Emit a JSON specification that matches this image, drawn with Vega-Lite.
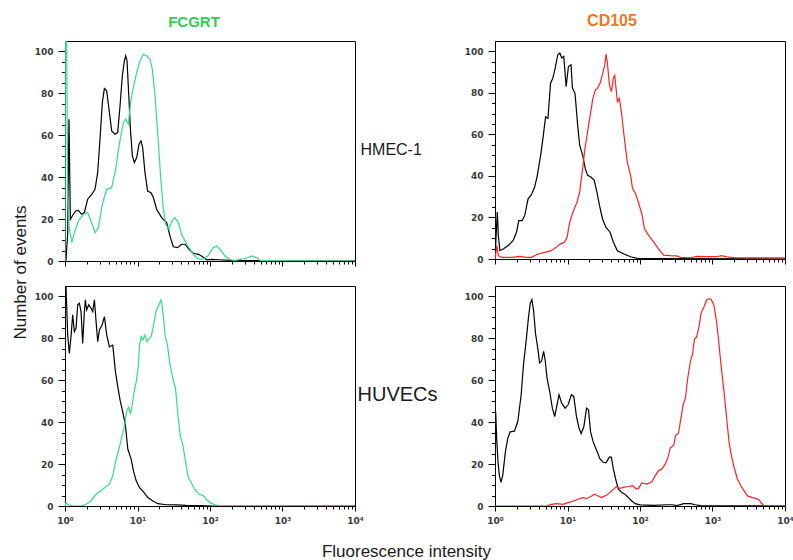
{
  "$schema": "https://vega.github.io/schema/vega-lite/v6.json",
  "background": "white",
  "padding": {"left": 10, "top": 12, "right": 5, "bottom": 5},
  "datasets": {
    "hmec_fcgrt": [
      {"fluor":1.03,"count":0,"stain":"control"},{"fluor":1.09,"count":13.5,"stain":"control"},{"fluor":1.135,"count":67.7,"stain":"control"},{"fluor":1.185,"count":19.9,"stain":"control"},{"fluor":1.262,"count":21.5,"stain":"control"},{"fluor":1.403,"count":23.9,"stain":"control"},{"fluor":1.527,"count":24.2,"stain":"control"},{"fluor":1.698,"count":22.3,"stain":"control"},{"fluor":1.848,"count":23.1,"stain":"control"},{"fluor":2.055,"count":29.5,"stain":"control"},{"fluor":2.333,"count":31.8,"stain":"control"},{"fluor":2.593,"count":34.2,"stain":"control"},{"fluor":2.823,"count":42.2,"stain":"control"},{"fluor":3.039,"count":58.1,"stain":"control"},{"fluor":3.273,"count":75.6,"stain":"control"},{"fluor":3.49,"count":82.3,"stain":"control"},{"fluor":3.757,"count":81.2,"stain":"control"},{"fluor":4.045,"count":72.5,"stain":"control"},{"fluor":4.403,"count":62.1,"stain":"control"},{"fluor":4.897,"count":60.5,"stain":"control"},{"fluor":5.325,"count":61.3,"stain":"control"},{"fluor":5.74,"count":74.0,"stain":"control"},{"fluor":6.18,"count":88.4,"stain":"control"},{"fluor":6.58,"count":95.5,"stain":"control"},{"fluor":6.87,"count":97.9,"stain":"control"},{"fluor":7.17,"count":95.5,"stain":"control"},{"fluor":7.63,"count":77.2,"stain":"control"},{"fluor":7.96,"count":63.7,"stain":"control"},{"fluor":8.49,"count":50.2,"stain":"control"},{"fluor":9.04,"count":47.0,"stain":"control"},{"fluor":9.75,"count":49.4,"stain":"control"},{"fluor":10.49,"count":55.7,"stain":"control"},{"fluor":11.17,"count":57.3,"stain":"control"},{"fluor":11.78,"count":54.1,"stain":"control"},{"fluor":12.68,"count":42.2,"stain":"control"},{"fluor":13.8,"count":33.4,"stain":"control"},{"fluor":15.35,"count":32.6,"stain":"control"},{"fluor":16.53,"count":30.3,"stain":"control"},{"fluor":18.37,"count":24.7,"stain":"control"},{"fluor":21.53,"count":20.7,"stain":"control"},{"fluor":25.24,"count":18.3,"stain":"control"},{"fluor":28.06,"count":11.9,"stain":"control"},{"fluor":31.2,"count":6.8,"stain":"control"},{"fluor":35.8,"count":6.4,"stain":"control"},{"fluor":40.6,"count":8.0,"stain":"control"},{"fluor":45.2,"count":8.0,"stain":"control"},{"fluor":51.3,"count":5.6,"stain":"control"},{"fluor":58.9,"count":3.7,"stain":"control"},{"fluor":69,"count":3.2,"stain":"control"},{"fluor":78.4,"count":2.1,"stain":"control"},{"fluor":90,"count":0.5,"stain":"control"},{"fluor":105.5,"count":0.8,"stain":"control"},{"fluor":130.3,"count":0.6,"stain":"control"},{"fluor":199,"count":0.3,"stain":"control"},{"fluor":376,"count":0.2,"stain":"control"},{"fluor":10000,"count":0,"stain":"control"},
      {"fluor":1.0,"count":0,"stain":"FCGRT"},{"fluor":1.01,"count":105,"stain":"FCGRT"},{"fluor":1.054,"count":105,"stain":"FCGRT"},{"fluor":1.088,"count":35.8,"stain":"FCGRT"},{"fluor":1.135,"count":16.7,"stain":"FCGRT"},{"fluor":1.236,"count":8.8,"stain":"FCGRT"},{"fluor":1.345,"count":13.5,"stain":"FCGRT"},{"fluor":1.527,"count":19.1,"stain":"FCGRT"},{"fluor":1.79,"count":22.3,"stain":"FCGRT"},{"fluor":2.055,"count":23.1,"stain":"FCGRT"},{"fluor":2.284,"count":19.1,"stain":"FCGRT"},{"fluor":2.593,"count":13.5,"stain":"FCGRT"},{"fluor":2.884,"count":15.9,"stain":"FCGRT"},{"fluor":3.273,"count":27.1,"stain":"FCGRT"},{"fluor":3.757,"count":34.2,"stain":"FCGRT"},{"fluor":4.403,"count":35.0,"stain":"FCGRT"},{"fluor":5.0,"count":43.8,"stain":"FCGRT"},{"fluor":5.56,"count":54.9,"stain":"FCGRT"},{"fluor":6.38,"count":66.1,"stain":"FCGRT"},{"fluor":6.87,"count":67.7,"stain":"FCGRT"},{"fluor":7.47,"count":65.3,"stain":"FCGRT"},{"fluor":8.13,"count":77.2,"stain":"FCGRT"},{"fluor":8.85,"count":83.6,"stain":"FCGRT"},{"fluor":9.75,"count":90,"stain":"FCGRT"},{"fluor":10.82,"count":95.5,"stain":"FCGRT"},{"fluor":12.03,"count":98.7,"stain":"FCGRT"},{"fluor":13.37,"count":97.9,"stain":"FCGRT"},{"fluor":14.87,"count":96.3,"stain":"FCGRT"},{"fluor":16.02,"count":91.6,"stain":"FCGRT"},{"fluor":17.43,"count":78.8,"stain":"FCGRT"},{"fluor":18.97,"count":61.3,"stain":"FCGRT"},{"fluor":20.64,"count":42.2,"stain":"FCGRT"},{"fluor":22.47,"count":26.3,"stain":"FCGRT"},{"fluor":24.48,"count":17.5,"stain":"FCGRT"},{"fluor":27.19,"count":15.1,"stain":"FCGRT"},{"fluor":29.6,"count":19.1,"stain":"FCGRT"},{"fluor":32.9,"count":20.7,"stain":"FCGRT"},{"fluor":36.6,"count":18.3,"stain":"FCGRT"},{"fluor":40.6,"count":12.7,"stain":"FCGRT"},{"fluor":45.2,"count":9.6,"stain":"FCGRT"},{"fluor":51.3,"count":6.4,"stain":"FCGRT"},{"fluor":58.9,"count":3.2,"stain":"FCGRT"},{"fluor":67.6,"count":1.1,"stain":"FCGRT"},{"fluor":78.4,"count":0.8,"stain":"FCGRT"},{"fluor":92.9,"count":2.4,"stain":"FCGRT"},{"fluor":111,"count":6.4,"stain":"FCGRT"},{"fluor":123.6,"count":7.2,"stain":"FCGRT"},{"fluor":137.4,"count":5.6,"stain":"FCGRT"},{"fluor":161,"count":2.4,"stain":"FCGRT"},{"fluor":188.8,"count":0.6,"stain":"FCGRT"},{"fluor":221,"count":0.3,"stain":"FCGRT"},{"fluor":304,"count":1.1,"stain":"FCGRT"},{"fluor":376,"count":2.4,"stain":"FCGRT"},{"fluor":440,"count":1.6,"stain":"FCGRT"},{"fluor":490,"count":0.3,"stain":"FCGRT"},{"fluor":709,"count":0.2,"stain":"FCGRT"},{"fluor":10000,"count":0,"stain":"FCGRT"}
    ],
    "hmec_cd105": [
      {"fluor":1.0,"count":0,"stain":"control"},{"fluor":1.076,"count":22.6,"stain":"control"},{"fluor":1.111,"count":11.3,"stain":"control"},{"fluor":1.17,"count":4.0,"stain":"control"},{"fluor":1.3,"count":4.8,"stain":"control"},{"fluor":1.522,"count":6.5,"stain":"control"},{"fluor":1.782,"count":8.9,"stain":"control"},{"fluor":1.979,"count":12.9,"stain":"control"},{"fluor":2.13,"count":18.5,"stain":"control"},{"fluor":2.366,"count":18.5,"stain":"control"},{"fluor":2.573,"count":21,"stain":"control"},{"fluor":2.858,"count":29,"stain":"control"},{"fluor":3.175,"count":31,"stain":"control"},{"fluor":3.526,"count":34.7,"stain":"control"},{"fluor":3.836,"count":40.3,"stain":"control"},{"fluor":4.26,"count":50,"stain":"control"},{"fluor":4.585,"count":58.1,"stain":"control"},{"fluor":4.986,"count":68.5,"stain":"control"},{"fluor":5.37,"count":67.7,"stain":"control"},{"fluor":5.84,"count":84.7,"stain":"control"},{"fluor":6.28,"count":87.1,"stain":"control"},{"fluor":6.76,"count":91.9,"stain":"control"},{"fluor":7.35,"count":98.4,"stain":"control"},{"fluor":7.83,"count":99.2,"stain":"control"},{"fluor":8.34,"count":96.8,"stain":"control"},{"fluor":8.89,"count":97.6,"stain":"control"},{"fluor":9.57,"count":83,"stain":"control"},{"fluor":10.3,"count":92.7,"stain":"control"},{"fluor":11.2,"count":93.5,"stain":"control"},{"fluor":11.68,"count":82.3,"stain":"control"},{"fluor":12.69,"count":79.8,"stain":"control"},{"fluor":13.81,"count":64.5,"stain":"control"},{"fluor":14.72,"count":54.8,"stain":"control"},{"fluor":16.17,"count":50,"stain":"control"},{"fluor":17.59,"count":43.5,"stain":"control"},{"fluor":18.93,"count":40.3,"stain":"control"},{"fluor":21.03,"count":39.5,"stain":"control"},{"fluor":23.36,"count":37.9,"stain":"control"},{"fluor":25.41,"count":32.3,"stain":"control"},{"fluor":27.63,"count":25.8,"stain":"control"},{"fluor":30.36,"count":19.4,"stain":"control"},{"fluor":33.74,"count":15.3,"stain":"control"},{"fluor":38.67,"count":12.9,"stain":"control"},{"fluor":42.96,"count":8.1,"stain":"control"},{"fluor":48.73,"count":4.0,"stain":"control"},{"fluor":60.1,"count":2.4,"stain":"control"},{"fluor":74.1,"count":1.1,"stain":"control"},{"fluor":91.4,"count":0.3,"stain":"control"},{"fluor":139.3,"count":0.2,"stain":"control"},{"fluor":10000,"count":0,"stain":"control"},
      {"fluor":1.0,"count":0,"stain":"CD105"},{"fluor":1.032,"count":3,"stain":"CD105"},{"fluor":1.065,"count":6.5,"stain":"CD105"},{"fluor":1.111,"count":1.6,"stain":"CD105"},{"fluor":1.234,"count":0.8,"stain":"CD105"},{"fluor":1.69,"count":0.8,"stain":"CD105"},{"fluor":2.198,"count":1.3,"stain":"CD105"},{"fluor":2.712,"count":0.8,"stain":"CD105"},{"fluor":3.175,"count":0.8,"stain":"CD105"},{"fluor":3.917,"count":2.4,"stain":"CD105"},{"fluor":4.831,"count":3.2,"stain":"CD105"},{"fluor":5.96,"count":4.0,"stain":"CD105"},{"fluor":6.98,"count":5.6,"stain":"CD105"},{"fluor":8.0,"count":7.3,"stain":"CD105"},{"fluor":9.07,"count":8.1,"stain":"CD105"},{"fluor":9.87,"count":10.5,"stain":"CD105"},{"fluor":10.73,"count":17.7,"stain":"CD105"},{"fluor":11.92,"count":22.6,"stain":"CD105"},{"fluor":13.52,"count":27.4,"stain":"CD105"},{"fluor":14.72,"count":32.3,"stain":"CD105"},{"fluor":16.17,"count":43.5,"stain":"CD105"},{"fluor":17.41,"count":53.2,"stain":"CD105"},{"fluor":18.93,"count":61.3,"stain":"CD105"},{"fluor":20.59,"count":69.4,"stain":"CD105"},{"fluor":22.39,"count":77.4,"stain":"CD105"},{"fluor":24.36,"count":81.5,"stain":"CD105"},{"fluor":25.94,"count":82.3,"stain":"CD105"},{"fluor":28.21,"count":84.7,"stain":"CD105"},{"fluor":30.68,"count":89.5,"stain":"CD105"},{"fluor":32.66,"count":93.5,"stain":"CD105"},{"fluor":34.06,"count":98.7,"stain":"CD105"},{"fluor":35.53,"count":94.4,"stain":"CD105"},{"fluor":37.84,"count":83.9,"stain":"CD105"},{"fluor":40.3,"count":80.6,"stain":"CD105"},{"fluor":42.96,"count":87.1,"stain":"CD105"},{"fluor":44.8,"count":88.4,"stain":"CD105"},{"fluor":46.7,"count":82.3,"stain":"CD105"},{"fluor":48.73,"count":75.8,"stain":"CD105"},{"fluor":51.9,"count":77.4,"stain":"CD105"},{"fluor":55.3,"count":71,"stain":"CD105"},{"fluor":60.1,"count":59.7,"stain":"CD105"},{"fluor":66.7,"count":46.8,"stain":"CD105"},{"fluor":74.1,"count":40.3,"stain":"CD105"},{"fluor":78.9,"count":33.9,"stain":"CD105"},{"fluor":86.8,"count":31.5,"stain":"CD105"},{"fluor":96.4,"count":26.6,"stain":"CD105"},{"fluor":107.1,"count":21,"stain":"CD105"},{"fluor":115.3,"count":14.5,"stain":"CD105"},{"fluor":132.1,"count":11.3,"stain":"CD105"},{"fluor":154.6,"count":8.1,"stain":"CD105"},{"fluor":181,"count":4.8,"stain":"CD105"},{"fluor":212,"count":1.9,"stain":"CD105"},{"fluor":261,"count":1.6,"stain":"CD105"},{"fluor":323,"count":1.5,"stain":"CD105"},{"fluor":358,"count":0.8,"stain":"CD105"},{"fluor":491,"count":0.6,"stain":"CD105"},{"fluor":606,"count":1.3,"stain":"CD105"},{"fluor":830,"count":1.1,"stain":"CD105"},{"fluor":1137,"count":1.1,"stain":"CD105"},{"fluor":1331,"count":1.6,"stain":"CD105"},{"fluor":1559,"count":1.0,"stain":"CD105"},{"fluor":2138,"count":0.6,"stain":"CD105"},{"fluor":4946,"count":0.5,"stain":"CD105"},{"fluor":10000,"count":0.5,"stain":"CD105"}
    ],
    "huvec_fcgrt": [
      {"fluor":1.0,"count":0,"stain":"control"},{"fluor":1.015,"count":105,"stain":"control"},{"fluor":1.032,"count":105,"stain":"control"},{"fluor":1.089,"count":81.6,"stain":"control"},{"fluor":1.148,"count":72.8,"stain":"control"},{"fluor":1.21,"count":80.8,"stain":"control"},{"fluor":1.276,"count":91.2,"stain":"control"},{"fluor":1.346,"count":83.2,"stain":"control"},{"fluor":1.419,"count":84.8,"stain":"control"},{"fluor":1.497,"count":96,"stain":"control"},{"fluor":1.578,"count":96.8,"stain":"control"},{"fluor":1.664,"count":92.8,"stain":"control"},{"fluor":1.754,"count":77.6,"stain":"control"},{"fluor":1.85,"count":92.8,"stain":"control"},{"fluor":1.91,"count":98.4,"stain":"control"},{"fluor":1.992,"count":93.6,"stain":"control"},{"fluor":2.125,"count":96,"stain":"control"},{"fluor":2.288,"count":94.4,"stain":"control"},{"fluor":2.412,"count":92.8,"stain":"control"},{"fluor":2.544,"count":98.4,"stain":"control"},{"fluor":2.683,"count":88,"stain":"control"},{"fluor":2.829,"count":78.4,"stain":"control"},{"fluor":2.983,"count":84,"stain":"control"},{"fluor":3.249,"count":86.4,"stain":"control"},{"fluor":3.497,"count":90.4,"stain":"control"},{"fluor":3.765,"count":81.6,"stain":"control"},{"fluor":4.1,"count":76,"stain":"control"},{"fluor":4.561,"count":76.8,"stain":"control"},{"fluor":4.964,"count":64,"stain":"control"},{"fluor":5.4,"count":56,"stain":"control"},{"fluor":5.76,"count":50.4,"stain":"control"},{"fluor":6.27,"count":44.8,"stain":"control"},{"fluor":6.82,"count":38.4,"stain":"control"},{"fluor":7.35,"count":27.2,"stain":"control"},{"fluor":8.17,"count":22.4,"stain":"control"},{"fluor":8.8,"count":16.8,"stain":"control"},{"fluor":9.59,"count":12,"stain":"control"},{"fluor":10.66,"count":8.8,"stain":"control"},{"fluor":12.1,"count":6.7,"stain":"control"},{"fluor":13.89,"count":4.0,"stain":"control"},{"fluor":16.29,"count":2.4,"stain":"control"},{"fluor":19.1,"count":1.1,"stain":"control"},{"fluor":24.9,"count":0.6,"stain":"control"},{"fluor":34.3,"count":0.5,"stain":"control"},{"fluor":47.1,"count":0.3,"stain":"control"},{"fluor":72,"count":0.2,"stain":"control"},{"fluor":110,"count":0,"stain":"control"},{"fluor":10000,"count":0,"stain":"control"},
      {"fluor":1.0,"count":0,"stain":"FCGRT"},{"fluor":1.032,"count":1.6,"stain":"FCGRT"},{"fluor":1.089,"count":0.8,"stain":"FCGRT"},{"fluor":1.276,"count":0,"stain":"FCGRT"},{"fluor":1.664,"count":0,"stain":"FCGRT"},{"fluor":1.95,"count":0.8,"stain":"FCGRT"},{"fluor":2.288,"count":2.4,"stain":"FCGRT"},{"fluor":2.683,"count":5.6,"stain":"FCGRT"},{"fluor":3.318,"count":8,"stain":"FCGRT"},{"fluor":4.1,"count":10.4,"stain":"FCGRT"},{"fluor":4.561,"count":14.4,"stain":"FCGRT"},{"fluor":5.07,"count":22.4,"stain":"FCGRT"},{"fluor":5.64,"count":28,"stain":"FCGRT"},{"fluor":6.14,"count":33.6,"stain":"FCGRT"},{"fluor":6.61,"count":38.4,"stain":"FCGRT"},{"fluor":7.12,"count":45.6,"stain":"FCGRT"},{"fluor":7.59,"count":47.2,"stain":"FCGRT"},{"fluor":8.0,"count":44,"stain":"FCGRT"},{"fluor":8.44,"count":48,"stain":"FCGRT"},{"fluor":8.99,"count":54.4,"stain":"FCGRT"},{"fluor":9.59,"count":59.2,"stain":"FCGRT"},{"fluor":10.21,"count":65.6,"stain":"FCGRT"},{"fluor":10.66,"count":76.8,"stain":"FCGRT"},{"fluor":11.24,"count":80.8,"stain":"FCGRT"},{"fluor":11.85,"count":79.2,"stain":"FCGRT"},{"fluor":12.63,"count":81.6,"stain":"FCGRT"},{"fluor":13.46,"count":78.4,"stain":"FCGRT"},{"fluor":14.35,"count":80,"stain":"FCGRT"},{"fluor":15.45,"count":80.8,"stain":"FCGRT"},{"fluor":16.64,"count":86.4,"stain":"FCGRT"},{"fluor":18.12,"count":93.6,"stain":"FCGRT"},{"fluor":19.72,"count":96,"stain":"FCGRT"},{"fluor":21.03,"count":98.4,"stain":"FCGRT"},{"fluor":21.94,"count":95.2,"stain":"FCGRT"},{"fluor":22.88,"count":89.6,"stain":"FCGRT"},{"fluor":24.12,"count":80.8,"stain":"FCGRT"},{"fluor":25.7,"count":77.6,"stain":"FCGRT"},{"fluor":27.7,"count":68.8,"stain":"FCGRT"},{"fluor":30.77,"count":60.8,"stain":"FCGRT"},{"fluor":33.5,"count":56,"stain":"FCGRT"},{"fluor":36.1,"count":43.2,"stain":"FCGRT"},{"fluor":38.9,"count":33.6,"stain":"FCGRT"},{"fluor":42.4,"count":28.8,"stain":"FCGRT"},{"fluor":46.1,"count":20.8,"stain":"FCGRT"},{"fluor":50.2,"count":13.6,"stain":"FCGRT"},{"fluor":55.2,"count":11.2,"stain":"FCGRT"},{"fluor":61.4,"count":8,"stain":"FCGRT"},{"fluor":70.4,"count":5.6,"stain":"FCGRT"},{"fluor":80,"count":5.1,"stain":"FCGRT"},{"fluor":89,"count":3.2,"stain":"FCGRT"},{"fluor":101.1,"count":1.6,"stain":"FCGRT"},{"fluor":116.1,"count":0.6,"stain":"FCGRT"},{"fluor":136.1,"count":0.2,"stain":"FCGRT"},{"fluor":10000,"count":0,"stain":"FCGRT"}
    ],
    "huvec_cd105": [
      {"fluor":1.0,"count":0,"stain":"control"},{"fluor":1.022,"count":45.1,"stain":"control"},{"fluor":1.055,"count":32.2,"stain":"control"},{"fluor":1.101,"count":20.9,"stain":"control"},{"fluor":1.148,"count":14.5,"stain":"control"},{"fluor":1.211,"count":11.3,"stain":"control"},{"fluor":1.277,"count":14.5,"stain":"control"},{"fluor":1.391,"count":25.8,"stain":"control"},{"fluor":1.498,"count":32.2,"stain":"control"},{"fluor":1.615,"count":35.4,"stain":"control"},{"fluor":1.854,"count":35.7,"stain":"control"},{"fluor":2.063,"count":40.3,"stain":"control"},{"fluor":2.296,"count":53.1,"stain":"control"},{"fluor":2.472,"count":67.6,"stain":"control"},{"fluor":2.691,"count":78.9,"stain":"control"},{"fluor":2.899,"count":90.2,"stain":"control"},{"fluor":3.06,"count":96.6,"stain":"control"},{"fluor":3.226,"count":98.6,"stain":"control"},{"fluor":3.403,"count":93.4,"stain":"control"},{"fluor":3.628,"count":82.1,"stain":"control"},{"fluor":3.908,"count":74.9,"stain":"control"},{"fluor":4.121,"count":68.3,"stain":"control"},{"fluor":4.394,"count":69.2,"stain":"control"},{"fluor":4.685,"count":73.8,"stain":"control"},{"fluor":4.94,"count":69.2,"stain":"control"},{"fluor":5.21,"count":61.2,"stain":"control"},{"fluor":5.67,"count":54.8,"stain":"control"},{"fluor":6.18,"count":46.7,"stain":"control"},{"fluor":6.66,"count":42.7,"stain":"control"},{"fluor":7.17,"count":48.3,"stain":"control"},{"fluor":7.64,"count":53.1,"stain":"control"},{"fluor":8.32,"count":49.1,"stain":"control"},{"fluor":9.26,"count":46.7,"stain":"control"},{"fluor":10.19,"count":48.3,"stain":"control"},{"fluor":11.33,"count":53.1,"stain":"control"},{"fluor":12.21,"count":52.3,"stain":"control"},{"fluor":13.3,"count":42.7,"stain":"control"},{"fluor":14.48,"count":37.0,"stain":"control"},{"fluor":15.43,"count":34.6,"stain":"control"},{"fluor":16.8,"count":37.8,"stain":"control"},{"fluor":18.3,"count":46.7,"stain":"control"},{"fluor":19.5,"count":45.9,"stain":"control"},{"fluor":20.79,"count":35.4,"stain":"control"},{"fluor":22.64,"count":30.6,"stain":"control"},{"fluor":25.18,"count":26.6,"stain":"control"},{"fluor":28.01,"count":22.5,"stain":"control"},{"fluor":31.16,"count":20.9,"stain":"control"},{"fluor":33.94,"count":20.6,"stain":"control"},{"fluor":37.75,"count":23.3,"stain":"control"},{"fluor":40.25,"count":23.3,"stain":"control"},{"fluor":42.9,"count":17.7,"stain":"control"},{"fluor":46.7,"count":12.1,"stain":"control"},{"fluor":50.3,"count":8.1,"stain":"control"},{"fluor":55.9,"count":6.4,"stain":"control"},{"fluor":62.2,"count":5.6,"stain":"control"},{"fluor":69.2,"count":4.0,"stain":"control"},{"fluor":77,"count":2.4,"stain":"control"},{"fluor":85.6,"count":1.1,"stain":"control"},{"fluor":100.5,"count":0.5,"stain":"control"},{"fluor":154,"count":0.3,"stain":"control"},{"fluor":236,"count":0.6,"stain":"control"},{"fluor":277,"count":0.6,"stain":"control"},{"fluor":324,"count":0.2,"stain":"control"},{"fluor":401,"count":1.1,"stain":"control"},{"fluor":497,"count":1.1,"stain":"control"},{"fluor":583,"count":0.6,"stain":"control"},{"fluor":684,"count":0.2,"stain":"control"},{"fluor":10000,"count":0,"stain":"control"},
      {"fluor":1.0,"count":0,"stain":"CD105"},{"fluor":5.1,"count":0,"stain":"CD105"},{"fluor":5.98,"count":0.8,"stain":"CD105"},{"fluor":7.02,"count":1.1,"stain":"CD105"},{"fluor":8.68,"count":0.8,"stain":"CD105"},{"fluor":10.19,"count":1.6,"stain":"CD105"},{"fluor":11.95,"count":2.3,"stain":"CD105"},{"fluor":14.02,"count":3.2,"stain":"CD105"},{"fluor":16.11,"count":4.0,"stain":"CD105"},{"fluor":18.3,"count":3.5,"stain":"CD105"},{"fluor":21.47,"count":4.8,"stain":"CD105"},{"fluor":23.38,"count":5.6,"stain":"CD105"},{"fluor":26.56,"count":4.8,"stain":"CD105"},{"fluor":29.56,"count":4.0,"stain":"CD105"},{"fluor":34.67,"count":5.2,"stain":"CD105"},{"fluor":40.68,"count":7.2,"stain":"CD105"},{"fluor":47.72,"count":9.3,"stain":"CD105"},{"fluor":53.1,"count":8.4,"stain":"CD105"},{"fluor":59,"count":8.9,"stain":"CD105"},{"fluor":69.3,"count":9.3,"stain":"CD105"},{"fluor":79.6,"count":9.7,"stain":"CD105"},{"fluor":88.5,"count":8.1,"stain":"CD105"},{"fluor":95.3,"count":8.4,"stain":"CD105"},{"fluor":106,"count":11,"stain":"CD105"},{"fluor":124.3,"count":10.5,"stain":"CD105"},{"fluor":145.9,"count":11.6,"stain":"CD105"},{"fluor":162.3,"count":14.5,"stain":"CD105"},{"fluor":180.6,"count":16.9,"stain":"CD105"},{"fluor":200.9,"count":17.7,"stain":"CD105"},{"fluor":223.5,"count":20.1,"stain":"CD105"},{"fluor":243.4,"count":23.3,"stain":"CD105"},{"fluor":262.2,"count":27.7,"stain":"CD105"},{"fluor":291.6,"count":29,"stain":"CD105"},{"fluor":310.6,"count":33.8,"stain":"CD105"},{"fluor":338.3,"count":34.6,"stain":"CD105"},{"fluor":360.6,"count":40.3,"stain":"CD105"},{"fluor":392.9,"count":48.3,"stain":"CD105"},{"fluor":423.3,"count":51.5,"stain":"CD105"},{"fluor":456,"count":61.2,"stain":"CD105"},{"fluor":496.8,"count":69.2,"stain":"CD105"},{"fluor":529.9,"count":72.5,"stain":"CD105"},{"fluor":564.3,"count":79.7,"stain":"CD105"},{"fluor":601.5,"count":80.5,"stain":"CD105"},{"fluor":648.2,"count":85.3,"stain":"CD105"},{"fluor":698.6,"count":92.3,"stain":"CD105"},{"fluor":760.6,"count":95,"stain":"CD105"},{"fluor":828.3,"count":98.2,"stain":"CD105"},{"fluor":891.9,"count":99,"stain":"CD105"},{"fluor":961.1,"count":98.6,"stain":"CD105"},{"fluor":1046,"count":95.8,"stain":"CD105"},{"fluor":1140,"count":87.8,"stain":"CD105"},{"fluor":1228,"count":77.3,"stain":"CD105"},{"fluor":1322,"count":66,"stain":"CD105"},{"fluor":1439,"count":54.8,"stain":"CD105"},{"fluor":1568,"count":41.9,"stain":"CD105"},{"fluor":1689,"count":30.6,"stain":"CD105"},{"fluor":1840,"count":23.3,"stain":"CD105"},{"fluor":1982,"count":18.5,"stain":"CD105"},{"fluor":2205,"count":12.9,"stain":"CD105"},{"fluor":2454,"count":9.7,"stain":"CD105"},{"fluor":2729,"count":7.2,"stain":"CD105"},{"fluor":3034,"count":4.8,"stain":"CD105"},{"fluor":3557,"count":4.0,"stain":"CD105"},{"fluor":4089,"count":3.5,"stain":"CD105"},{"fluor":4406,"count":2.9,"stain":"CD105"},{"fluor":4746,"count":1.3,"stain":"CD105"},{"fluor":5164,"count":0.2,"stain":"CD105"},{"fluor":10000,"count":0,"stain":"CD105"}
    ]
  },
  "concat": [
    {
      "width": 290, "height": 220,
      "data": {"name": "hmec_fcgrt"},
      "title": {"text": "FCGRT", "color": "#33cc55", "font": "Liberation Sans", "fontSize": 15, "fontWeight": "bold", "anchor": "middle", "baseline": "alphabetic", "offset": -1, "dx": -16},
      "mark": {"type": "line", "strokeWidth": 1.2, "clip": true},
      "encoding": {
        "x": {"field": "fluor", "type": "quantitative", "scale": {"type": "log", "domain": [1, 10000], "nice": false},
          "axis": {"values": [1,2,3,4,5,6,7,8,9,10,20,30,40,50,60,70,80,90,100,200,300,400,500,600,700,800,900,1000,2000,3000,4000,5000,6000,7000,8000,9000,10000],
            "labels": false, "title": null,
            "tickSize": {"condition": {"test": "datum.value == 1 || datum.value == 10 || datum.value == 100 || datum.value == 1000 || datum.value == 10000", "value": 5}, "value": 3}}},
        "y": {"field": "count", "type": "quantitative", "scale": {"domain": [0, 105], "nice": false},
          "axis": {"values": [0,5,10,15,20,25,30,35,40,45,50,55,60,65,70,75,80,85,90,95,100],
            "labelExpr": "datum.value % 20 == 0 ? datum.label : ''",
            "tickSize": {"condition": {"test": "datum.value % 20 == 0", "value": 7}, "value": 3.5},
            "title": "Number of events", "titleX": -40, "titleY": 231, "titleAlign": "center", "titleBaseline": "alphabetic", "titleFontSize": 17}},
        "color": {"field": "stain", "type": "nominal", "scale": {"domain": ["control", "FCGRT", "CD105"], "range": ["#000000", "#33dd88", "#ff2222"]}, "legend": null}
      }
    },
    {
      "width": 290, "height": 218,
      "data": {"name": "hmec_cd105"},
      "title": {"text": "CD105", "color": "#ee7722", "font": "Liberation Sans", "fontSize": 16, "fontWeight": "bold", "anchor": "middle", "baseline": "alphabetic", "offset": -1, "dx": -28},
      "mark": {"type": "line", "strokeWidth": 1.2, "clip": true},
      "encoding": {
        "x": {"field": "fluor", "type": "quantitative", "scale": {"type": "log", "domain": [1, 10000], "nice": false},
          "axis": {"values": [1,2,3,4,5,6,7,8,9,10,20,30,40,50,60,70,80,90,100,200,300,400,500,600,700,800,900,1000,2000,3000,4000,5000,6000,7000,8000,9000,10000],
            "labels": false, "title": null,
            "tickSize": {"condition": {"test": "datum.value == 1 || datum.value == 10 || datum.value == 100 || datum.value == 1000 || datum.value == 10000", "value": 5}, "value": 3}}},
        "y": {"field": "count", "type": "quantitative", "scale": {"domain": [0, 105], "nice": false},
          "axis": {"values": [0,5,10,15,20,25,30,35,40,45,50,55,60,65,70,75,80,85,90,95,100],
            "labelExpr": "datum.value % 20 == 0 ? datum.label : ''",
            "tickSize": {"condition": {"test": "datum.value % 20 == 0", "value": 7}, "value": 3.5},
            "title": "HMEC-1", "titleAngle": 0, "titleX": -135, "titleY": 113, "titleAlign": "left", "titleBaseline": "alphabetic", "titleFontSize": 16}},
        "color": {"field": "stain", "type": "nominal", "scale": {"domain": ["control", "FCGRT", "CD105"], "range": ["#000000", "#33dd88", "#ff2222"]}, "legend": null}
      }
    },
    {
      "width": 290, "height": 220,
      "data": {"name": "huvec_fcgrt"},
      "mark": {"type": "line", "strokeWidth": 1.2, "clip": true},
      "encoding": {
        "x": {"field": "fluor", "type": "quantitative", "scale": {"type": "log", "domain": [1, 10000], "nice": false},
          "axis": {"values": [1,2,3,4,5,6,7,8,9,10,20,30,40,50,60,70,80,90,100,200,300,400,500,600,700,800,900,1000,2000,3000,4000,5000,6000,7000,8000,9000,10000],
            "labelExpr": "datum.value == 1 ? '10⁰' : datum.value == 10 ? '10¹' : datum.value == 100 ? '10²' : datum.value == 1000 ? '10³' : datum.value == 10000 ? '10⁴' : ''",
            "tickSize": {"condition": {"test": "datum.value == 1 || datum.value == 10 || datum.value == 100 || datum.value == 1000 || datum.value == 10000", "value": 5}, "value": 3},
            "title": "Fluorescence intensity", "titleX": 341, "titleY": 50, "titleAlign": "center", "titleBaseline": "alphabetic", "titleFontSize": 17}},
        "y": {"field": "count", "type": "quantitative", "scale": {"domain": [0, 105], "nice": false},
          "axis": {"values": [0,5,10,15,20,25,30,35,40,45,50,55,60,65,70,75,80,85,90,95,100],
            "labelExpr": "datum.value % 20 == 0 ? datum.label : ''",
            "tickSize": {"condition": {"test": "datum.value % 20 == 0", "value": 7}, "value": 3.5},
            "title": null}},
        "color": {"field": "stain", "type": "nominal", "scale": {"domain": ["control", "FCGRT", "CD105"], "range": ["#000000", "#33dd88", "#ff2222"]}, "legend": null}
      }
    },
    {
      "width": 290, "height": 220,
      "data": {"name": "huvec_cd105"},
      "mark": {"type": "line", "strokeWidth": 1.2, "clip": true},
      "encoding": {
        "x": {"field": "fluor", "type": "quantitative", "scale": {"type": "log", "domain": [1, 10000], "nice": false},
          "axis": {"values": [1,2,3,4,5,6,7,8,9,10,20,30,40,50,60,70,80,90,100,200,300,400,500,600,700,800,900,1000,2000,3000,4000,5000,6000,7000,8000,9000,10000],
            "labelExpr": "datum.value == 1 ? '10⁰' : datum.value == 10 ? '10¹' : datum.value == 100 ? '10²' : datum.value == 1000 ? '10³' : datum.value == 10000 ? '10⁴' : ''",
            "tickSize": {"condition": {"test": "datum.value == 1 || datum.value == 10 || datum.value == 100 || datum.value == 1000 || datum.value == 10000", "value": 5}, "value": 3},
            "title": null}},
        "y": {"field": "count", "type": "quantitative", "scale": {"domain": [0, 105], "nice": false},
          "axis": {"values": [0,5,10,15,20,25,30,35,40,45,50,55,60,65,70,75,80,85,90,95,100],
            "labelExpr": "datum.value % 20 == 0 ? datum.label : ''",
            "tickSize": {"condition": {"test": "datum.value % 20 == 0", "value": 7}, "value": 3.5},
            "title": "HUVECs", "titleAngle": 0, "titleX": -138, "titleY": 114, "titleAlign": "left", "titleBaseline": "alphabetic", "titleFontSize": 20}},
        "color": {"field": "stain", "type": "nominal", "scale": {"domain": ["control", "FCGRT", "CD105"], "range": ["#000000", "#33dd88", "#ff2222"]}, "legend": null}
      }
    }
  ],
  "columns": 2,
  "spacing": {"row": 25, "column": 140},
  "bounds": "flush",
  "config": {
    "view": {"stroke": "black", "strokeWidth": 1},
    "axis": {
      "grid": false, "domainColor": "black", "domainWidth": 1, "tickColor": "black", "tickWidth": 1,
      "labelFont": "DejaVu Sans", "labelFontSize": 9, "labelFontWeight": "bold", "labelColor": "#3a3a3a", "labelPadding": 5,
      "labelOverlap": false, "labelFlush": false,
      "titleFont": "Liberation Sans", "titleFontWeight": "normal", "titleColor": "#1a1a1a"
    }
  }
}
